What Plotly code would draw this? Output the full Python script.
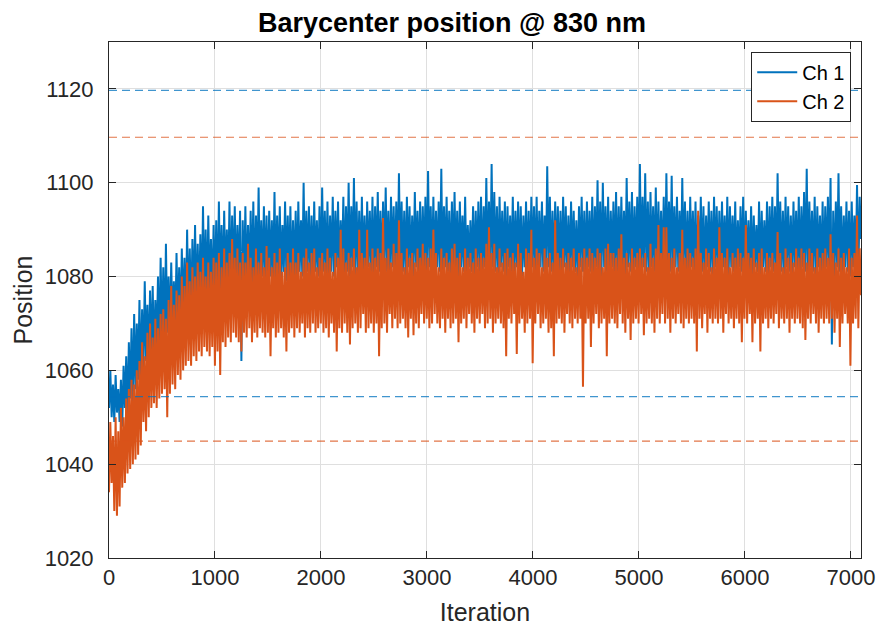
import numpy as np
import plotly.graph_objects as go

# Barycenter position, sampled every ~12.5 iterations (20 samples per 250 iterations)
ch1_position = [
    1052, 1060, 1050, 1057, 1049, 1059, 1051, 1056, 1049, 1058, 1048, 1061, 1052, 1063, 1050, 1066, 1054, 1069, 1053, 1072,
    1056, 1070, 1058, 1075, 1057, 1073, 1060, 1079, 1062, 1074, 1061, 1077, 1063, 1078, 1062, 1075, 1065, 1080, 1064, 1084,
    1066, 1082, 1065, 1087, 1068, 1080, 1067, 1083, 1069, 1079, 1068, 1085, 1070, 1082, 1069, 1086, 1071, 1084, 1070, 1090,
    1072, 1086, 1071, 1088, 1073, 1091, 1072, 1087, 1074, 1089, 1073, 1095, 1075, 1090, 1074, 1093, 1076, 1088, 1075, 1091,
    1076, 1092, 1074, 1096, 1077, 1091, 1076, 1094, 1078, 1090, 1077, 1096, 1076, 1093, 1078, 1095, 1077, 1091, 1079, 1094,
    1062, 1092, 1078, 1095, 1077, 1091, 1079, 1094, 1078, 1096, 1077, 1093, 1079, 1099, 1078, 1092, 1080, 1095, 1079, 1093,
    1078, 1094, 1080, 1092, 1079, 1098, 1078, 1093, 1080, 1095, 1079, 1091, 1081, 1096, 1079, 1093, 1080, 1095, 1078, 1092,
    1080, 1094, 1079, 1096, 1081, 1092, 1080, 1100, 1079, 1094, 1081, 1095, 1080, 1093, 1079, 1096, 1081, 1092, 1080, 1095,
    1079, 1099, 1081, 1094, 1080, 1096, 1079, 1093, 1081, 1097, 1080, 1094, 1082, 1096, 1080, 1092, 1081, 1097, 1079, 1095,
    1081, 1100, 1080, 1095, 1082, 1101, 1080, 1096, 1081, 1094, 1079, 1097, 1081, 1093, 1080, 1096, 1082, 1094, 1081, 1097,
    1080, 1095, 1082, 1098, 1081, 1094, 1080, 1096, 1082, 1099, 1081, 1094, 1080, 1097, 1082, 1095, 1081, 1096, 1080, 1102,
    1082, 1096, 1081, 1094, 1080, 1097, 1082, 1095, 1081, 1093, 1080, 1098, 1082, 1094, 1081, 1096, 1080, 1095, 1082, 1097,
    1081, 1102.5, 1082, 1095, 1080, 1097, 1081, 1094, 1082, 1096, 1081, 1103, 1080, 1095, 1082, 1097, 1081, 1094, 1080, 1096,
    1082, 1098, 1081, 1094, 1080, 1096, 1082, 1093, 1081, 1097, 1080, 1091, 1082, 1092, 1081, 1095, 1080, 1094, 1082, 1096,
    1081, 1097, 1080, 1095, 1082, 1101, 1081, 1096, 1080, 1104, 1082, 1098, 1081, 1095, 1080, 1097, 1082, 1094, 1081, 1096,
    1080, 1095, 1082, 1093, 1081, 1097, 1080, 1094, 1082, 1096, 1081, 1095, 1080, 1093, 1082, 1096, 1081, 1094, 1080, 1097,
    1082, 1095, 1081, 1097, 1080, 1094, 1082, 1096, 1081, 1093, 1080, 1103.5, 1082, 1097, 1081, 1094, 1080, 1096, 1082, 1095,
    1081, 1094, 1080, 1097, 1082, 1095, 1081, 1093, 1080, 1096, 1082, 1094, 1081, 1092, 1080, 1095, 1082, 1097, 1081, 1094,
    1080, 1096, 1082, 1094, 1081, 1097, 1080, 1095, 1082, 1100.5, 1081, 1096, 1080, 1100, 1082, 1095, 1081, 1097, 1080, 1094,
    1082, 1096, 1081, 1098, 1080, 1095, 1082, 1097, 1081, 1094, 1080, 1101, 1082, 1096, 1081, 1098, 1080, 1095, 1082, 1097,
    1081, 1104, 1080, 1097, 1082, 1102, 1081, 1096, 1080, 1098, 1082, 1095, 1081, 1099, 1080, 1096, 1082, 1094, 1081, 1097,
    1080, 1102, 1082, 1096, 1081, 1101.5, 1080, 1095, 1082, 1097, 1081, 1094, 1080, 1101, 1082, 1096, 1081, 1094, 1080, 1097,
    1082, 1094, 1081, 1096, 1080, 1093, 1082, 1097, 1081, 1095, 1080, 1093, 1082, 1096, 1081, 1094, 1080, 1097, 1082, 1095,
    1081, 1094, 1080, 1096, 1082, 1093, 1081, 1097, 1080, 1095, 1082, 1093, 1081, 1096, 1080, 1092, 1082, 1095, 1081, 1097,
    1080, 1094, 1082, 1092, 1081, 1095, 1080, 1093, 1082, 1091, 1081, 1096, 1080, 1094, 1082, 1092, 1081, 1096, 1080, 1095,
    1082, 1097, 1081, 1095, 1080, 1102, 1082, 1096, 1081, 1094, 1080, 1097, 1082, 1095, 1081, 1093, 1080, 1096, 1082, 1094,
    1081, 1097, 1080, 1095, 1082, 1098, 1081, 1103, 1080, 1096, 1082, 1094, 1081, 1097, 1080, 1095, 1082, 1093, 1081, 1096,
    1080, 1095, 1082, 1097, 1081, 1101, 1065.5, 1094, 1080, 1096, 1082, 1102, 1081, 1095, 1080, 1093, 1082, 1096, 1081, 1094,
    1080, 1096, 1082, 1093, 1081, 1099.5, 1080, 1097, 1088,
]

ch2_position = [
    1034, 1049, 1036, 1046, 1030, 1050, 1029, 1047, 1031, 1052, 1035, 1050, 1036, 1054, 1038, 1056, 1039, 1058, 1040, 1057,
    1041, 1060, 1042, 1062, 1044, 1066, 1049, 1063, 1047, 1068, 1050, 1070, 1052, 1067, 1053, 1071, 1052, 1069, 1054, 1072,
    1055, 1073, 1056, 1071, 1050, 1075, 1055, 1078, 1057, 1074, 1056, 1077, 1059, 1076, 1058, 1080, 1060, 1078, 1061, 1083,
    1062, 1079, 1061, 1082, 1063, 1080, 1062, 1083, 1064, 1081, 1063, 1084, 1065, 1080, 1064, 1083, 1063, 1081, 1065, 1084,
    1061, 1083, 1064, 1085, 1059, 1082, 1066, 1086, 1065, 1083, 1067, 1085, 1066, 1088, 1068, 1084, 1067, 1086, 1066, 1083,
    1064, 1085, 1068, 1083, 1067, 1087, 1069, 1084, 1066, 1082, 1068, 1086, 1067, 1083, 1069, 1085, 1068, 1082, 1067, 1086.5,
    1068, 1084, 1063, 1082, 1069, 1085, 1067, 1083, 1068, 1086, 1069, 1081, 1067, 1082, 1064, 1085, 1068, 1083, 1069, 1086,
    1067, 1083, 1069, 1085, 1068, 1081, 1070, 1084, 1067, 1086, 1069, 1083, 1068, 1085, 1070, 1086, 1068, 1082, 1069, 1084,
    1070, 1085, 1068, 1083, 1069, 1086, 1067, 1084, 1070, 1081, 1068, 1085, 1064, 1084, 1069, 1090, 1068, 1086, 1070, 1083,
    1068, 1085, 1065.5, 1084, 1069, 1086, 1070, 1082, 1068, 1090, 1069, 1085, 1072, 1084, 1068, 1090, 1069, 1083, 1070, 1086,
    1068, 1084, 1070, 1086, 1063, 1085, 1069, 1092.5, 1070, 1084, 1068, 1086, 1072, 1083, 1069, 1087, 1071, 1085, 1069, 1092,
    1070, 1085, 1071, 1082, 1069, 1086, 1067, 1084, 1071, 1085, 1067.5, 1083, 1070, 1086, 1069, 1084, 1072, 1087, 1070, 1085,
    1071, 1084, 1069, 1086, 1070, 1090, 1072, 1085, 1070, 1082, 1069, 1086, 1071, 1084, 1068, 1085, 1071, 1083, 1069, 1086,
    1070, 1087, 1071, 1084, 1066, 1085, 1070, 1082, 1071, 1086, 1069, 1084, 1072, 1085, 1070, 1083, 1068, 1086, 1071, 1084,
    1070, 1085, 1072, 1084, 1069, 1087, 1070, 1090.5, 1071, 1085, 1068, 1087, 1070, 1082, 1071, 1086, 1070, 1083, 1069, 1085,
    1063, 1086, 1071, 1084, 1070, 1085, 1072, 1083, 1063.5, 1087, 1070, 1085, 1071, 1081, 1068, 1086, 1070, 1085, 1071, 1090,
    1061.5, 1084, 1070, 1086, 1072, 1085, 1069, 1082, 1070, 1086, 1071, 1084, 1068, 1085, 1069, 1083, 1063, 1092, 1070, 1085,
    1071, 1084, 1070, 1086, 1068, 1083, 1072, 1085, 1070, 1084, 1069, 1086, 1071, 1082, 1070, 1085, 1071, 1084, 1056.5, 1086,
    1070, 1084, 1071, 1086, 1065, 1085, 1070, 1084, 1072, 1086, 1069, 1085, 1070, 1082, 1071, 1086, 1063, 1087, 1070, 1085,
    1071, 1085, 1070, 1084, 1069, 1086, 1072, 1089, 1070, 1084, 1068, 1085, 1071, 1083, 1066.5, 1086, 1070, 1084, 1071, 1085,
    1070, 1086, 1072, 1084, 1067.5, 1085, 1070, 1082, 1071, 1087, 1070, 1084, 1068, 1086, 1071, 1091, 1070, 1085, 1072, 1090.5,
    1070, 1090.5, 1071, 1085, 1068, 1084, 1071, 1086, 1070, 1082, 1072, 1085, 1070, 1090, 1069, 1084, 1071, 1086, 1070, 1085,
    1071, 1084, 1070, 1086, 1064, 1094, 1071, 1085, 1069, 1083, 1072, 1086, 1068, 1085, 1071, 1082, 1070, 1086, 1071, 1084,
    1070, 1090.5, 1071, 1085, 1068, 1084, 1072, 1086, 1070, 1082, 1071, 1085, 1069, 1084, 1071, 1086, 1070, 1085, 1066, 1084,
    1071, 1091, 1070, 1085, 1072, 1084, 1066, 1086, 1070, 1083, 1071, 1085, 1064, 1086, 1070, 1082, 1071, 1085, 1069, 1084,
    1071, 1085, 1070, 1083, 1072, 1089.5, 1069, 1085, 1071, 1082, 1070, 1086, 1071, 1084, 1068, 1085, 1071, 1083, 1070, 1086,
    1071, 1084, 1070, 1086, 1069, 1085, 1066.5, 1083, 1071, 1086, 1070, 1085, 1072, 1082, 1070, 1086, 1068, 1084, 1071, 1085,
    1070, 1086, 1071, 1084, 1070, 1089, 1071, 1085, 1068, 1083, 1071, 1086, 1065, 1084, 1070, 1085, 1072, 1082, 1070, 1086,
    1061, 1084, 1070, 1085, 1071, 1093, 1069, 1086, 1076,
]

assert len(ch1_position) == len(ch2_position)

# Tolerance bounds for each channel (dashed guides)
ch1_bounds = [1119.7, 1054.4]
ch2_bounds = [1109.7, 1044.9]

last_iteration = 7095
iterations = np.linspace(0, last_iteration, len(ch1_position))

x_ticks = [0, 1000, 2000, 3000, 4000, 5000, 6000, 7000]
y_ticks = [1020, 1040, 1060, 1080, 1100, 1120]

BLUE = "#0072BD"
ORANGE = "#D95319"
FONT = "Liberation Sans, Arial, Helvetica, sans-serif"
AXIS_COLOR = "#262626"

fig = go.Figure()
fig.add_trace(go.Scatter(x=iterations, y=ch1_position, mode="lines", name="Ch 1",
                         line=dict(color=BLUE, width=2)))
fig.add_trace(go.Scatter(x=iterations, y=ch2_position, mode="lines", name="Ch 2",
                         line=dict(color=ORANGE, width=2)))

for level in ch1_bounds:
    fig.add_trace(go.Scatter(x=[0, last_iteration], y=[level, level], mode="lines",
                             showlegend=False, hoverinfo="skip",
                             line=dict(color="rgba(0,114,189,0.75)", width=1.2, dash="8px,5px")))
for level in ch2_bounds:
    fig.add_trace(go.Scatter(x=[0, last_iteration], y=[level, level], mode="lines",
                             showlegend=False, hoverinfo="skip",
                             line=dict(color="rgba(217,83,25,0.8)", width=1.2, dash="8px,5px")))

axis_common = dict(
    showline=True, linecolor=AXIS_COLOR, linewidth=1, mirror="ticks",
    ticks="inside", ticklen=7, tickcolor=AXIS_COLOR, tickwidth=1,
    showgrid=True, gridcolor="#dfdfdf", gridwidth=1, zeroline=False,
    automargin=False,
    tickfont=dict(family=FONT, size=22, color=AXIS_COLOR),
)

fig.update_layout(
    width=876, height=626,
    margin=dict(l=109, r=15, t=42, b=68),
    paper_bgcolor="white", plot_bgcolor="white",
    title=dict(text="<b>Barycenter position @ 830 nm</b>",
               font=dict(family=FONT, size=27, color="black"),
               x=452 / 876, xanchor="center", xref="container",
               y=1 - 23 / 626, yanchor="middle", yref="container"),
    xaxis=dict(range=[0, last_iteration], tickvals=x_ticks,
               title=dict(text="Iteration", font=dict(family=FONT, size=25, color=AXIS_COLOR), standoff=18),
               **axis_common),
    yaxis=dict(range=[1020, 1130], tickvals=y_ticks, ticklabelstandoff=10,
               title=dict(text="Position", font=dict(family=FONT, size=25, color=AXIS_COLOR), standoff=4),
               **axis_common),
    legend=dict(x=0.987, y=0.981, xanchor="right", yanchor="top",
                bgcolor="white", bordercolor=AXIS_COLOR, borderwidth=1,
                font=dict(family=FONT, size=20, color="black"),
                tracegroupgap=0, itemwidth=40),
    showlegend=True,
)

fig.write_html("out.html")
